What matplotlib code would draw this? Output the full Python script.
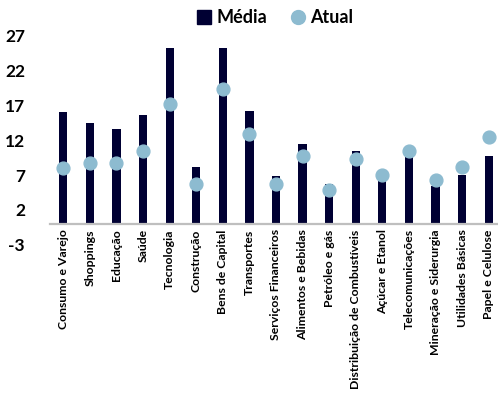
import numpy as np
import matplotlib
matplotlib.use("Agg")
from matplotlib import pyplot as plt
from matplotlib.lines import Line2D

setores = ["Consumo e Varejo", "Shoppings", "Educação", "Saúde", "Tecnologia",
           "Construção", "Bens de Capital", "Transportes", "Serviços Financeiros",
           "Alimentos e Bebidas", "Petróleo e gás", "Distribuição de Combustíveis",
           "Açúcar e Etanol", "Telecomunicações", "Mineração e Siderurgia",
           "Utilidades Básicas", "Papel e Celulose"]
media = [16.1, 14.5, 13.6, 15.7, 25.3, 8.1, 25.3, 16.2, 6.9, 11.5, 5.7, 10.4,
         6.6, 10.0, 5.4, 7.0, 9.8]
atual = [8.0, 8.7, 8.8, 10.4, 17.2, 5.7, 19.4, 12.9, 5.7, 9.7, 4.9, 9.3,
         7.0, 10.5, 6.3, 8.2, 12.5]
yticks = [-3, 2, 7, 12, 17, 22, 27]

plt.rcParams['font.family'] = ['Lato', 'DejaVu Sans']
plt.rcParams['font.weight'] = 'bold'

navy = '#000033'
azul = '#8DBBD0'

fig = plt.figure(figsize=(4.98, 3.94), dpi=100)
ax = fig.add_axes([50 / 498, 1 - 244.6 / 394, 448 / 498, 208.6 / 394])

x = np.arange(len(setores))
ax.bar(x, media, width=0.31, color=navy, zorder=2)
ax.scatter(x, atual, s=85, color=azul, zorder=3)

for s in ['left', 'right', 'top']:
    ax.spines[s].set_visible(False)
ax.spines['bottom'].set_position(('data', 0))
ax.spines['bottom'].set_color('#BFBFBF')
ax.spines['bottom'].set_linewidth(1.6)
ax.tick_params(axis='both', length=0)
ax.tick_params(axis='y', pad=18)
ax.tick_params(axis='x', pad=4)

ax.set_xlim(-0.5, 16.35)
ax.set_ylim(-3, 27)
ax.set_yticks(yticks)
ax.set_yticklabels([str(v) for v in yticks], fontsize=12.5, fontweight='bold')
ax.set_xticks(x)
ax.set_xticklabels(setores, fontsize=8.8, fontweight='bold')
for lbl in ax.get_xticklabels():
    lbl.set_rotation(90)
    lbl.set_va('top')
    lbl.set_ha('center')

handles = [Line2D([], [], marker='s', linestyle='none', color=navy, markersize=10),
           Line2D([], [], marker='o', linestyle='none', color=azul, markersize=10)]
fig.legend(handles, ['Média', 'Atual'], loc='center', bbox_to_anchor=(0.55, 0.955),
           ncol=2, frameon=False, prop={'size': 13, 'weight': 'bold'},
           handletextpad=0.2, columnspacing=1.2, handlelength=1.0)

fig.savefig('out.png', dpi=100)
